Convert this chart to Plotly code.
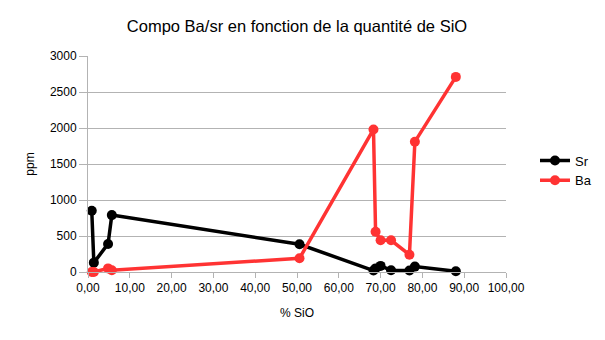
import plotly.graph_objects as go

sio = [0.9, 1.4, 4.8, 5.7, 50.6, 68.3, 68.8, 70.0, 72.5, 76.9, 78.2, 88.0]
sr = [850, 130, 390, 790, 385, 20, 50, 85, 25, 20, 75, 10]
ba = [0, 0, 50, 25, 190, 1980, 560, 440, 440, 240, 1810, 2710]

x_ticks = [0, 10, 20, 30, 40, 50, 60, 70, 80, 90, 100]
x_tick_text = ["0,00", "10,00", "20,00", "30,00", "40,00", "50,00", "60,00", "70,00", "80,00", "90,00", "100,00"]
y_ticks = [0, 500, 1000, 1500, 2000, 2500, 3000]

FONT = "Liberation Sans, Arial, sans-serif"

fig = go.Figure()
fig.add_trace(go.Scatter(x=sio, y=sr, name="Sr", mode="lines+markers",
                         line=dict(color="#000000", width=3.5),
                         marker=dict(color="#000000", size=10),
                         cliponaxis=False))
fig.add_trace(go.Scatter(x=sio, y=ba, name="Ba", mode="lines+markers",
                         line=dict(color="#ff3333", width=3.5),
                         marker=dict(color="#ff3333", size=10),
                         cliponaxis=False))

fig.update_layout(
    width=605, height=340,
    margin=dict(l=88, r=99, t=56, b=68, autoexpand=False),
    paper_bgcolor="white", plot_bgcolor="white",
    font=dict(family=FONT, size=12, color="#000000"),
    title=dict(text="Compo Ba/sr en fonction de la quantité de SiO",
               x=0.5, xanchor="center", xref="paper", y=1 - 26 / 340, yanchor="middle",
               font=dict(size=16.5, family=FONT, color="#000000")),
    showlegend=True,
    legend=dict(xref="container", x=535 / 605, xanchor="left", y=0.47, yanchor="middle",
                font=dict(size=13, family=FONT), bgcolor="rgba(0,0,0,0)",
                itemwidth=30, tracegroupgap=4),
    xaxis=dict(range=[0, 100], tickvals=x_ticks, ticktext=x_tick_text,
               showgrid=False, zeroline=False, showline=True, linecolor="#b3b3b3", linewidth=1,
               ticks="outside", ticklen=5, tickcolor="#b3b3b3",
               tickfont=dict(size=12, family=FONT),
               title=dict(text="% SiO", font=dict(size=12, family=FONT), standoff=14)),
    yaxis=dict(range=[0, 3000], tickvals=y_ticks,
               showgrid=True, gridcolor="#b3b3b3", gridwidth=1, zeroline=False,
               showline=True, linecolor="#b3b3b3", linewidth=1,
               ticks="outside", ticklen=8, tickcolor="#b3b3b3",
               tickfont=dict(size=12, family=FONT),
               title=dict(text="ppm", font=dict(size=12, family=FONT), standoff=12)),
)

fig.write_html("out.html")
